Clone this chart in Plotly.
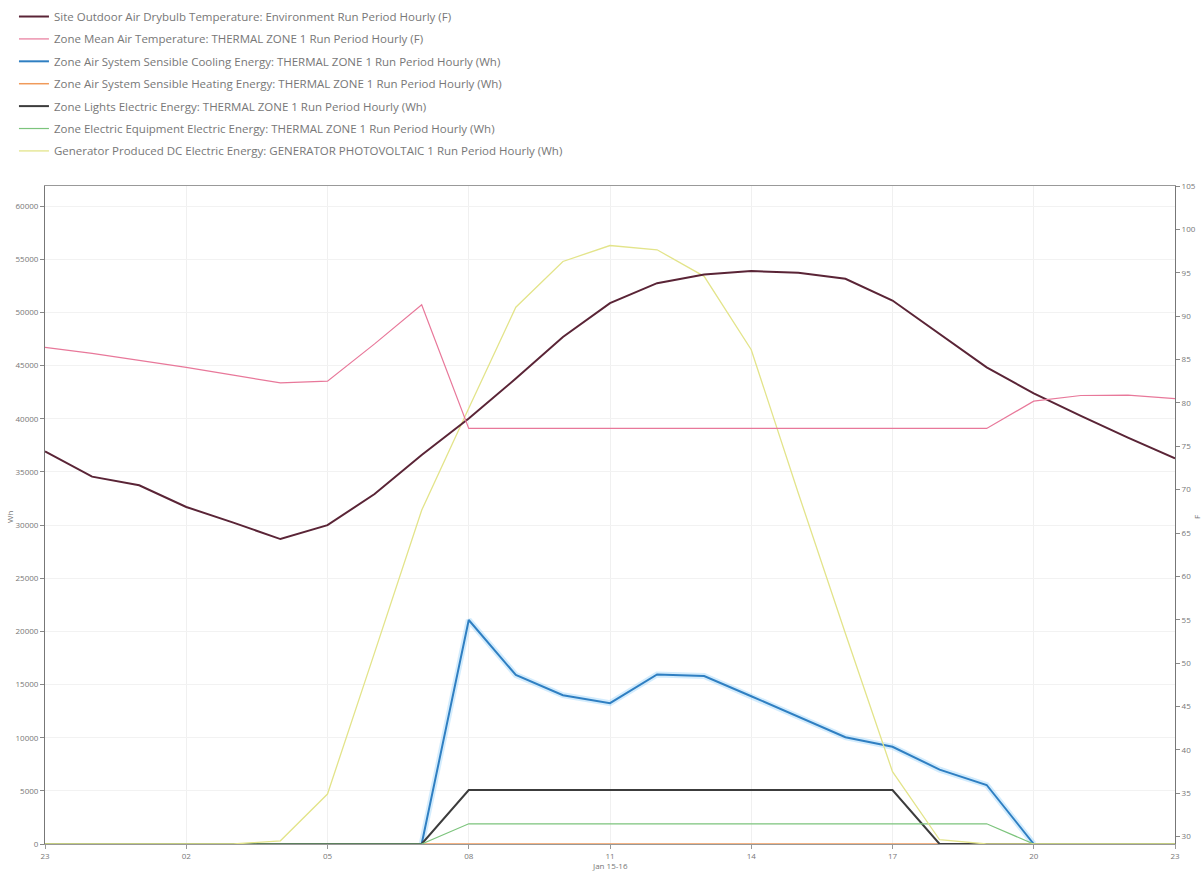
import plotly.graph_objects as go

# ---- data (hourly, Jan 14 23:00 -> Jan 15 23:00) ----
hour_index = list(range(25))
tick_positions = [0, 3, 6, 9, 12, 15, 18, 21, 24]
tick_labels = ["23", "02", "05", "08", "11", "14", "17", "20", "23"]

outdoor_temp_F = [74.4, 71.5, 70.5, 68.0, 66.2, 64.3, 65.9, 69.5, 74.0, 78.2, 82.8, 87.6, 91.5,
                  93.8, 94.8, 95.2, 95.0, 94.3, 91.8, 88.0, 84.1, 81.1, 78.5, 76.0, 73.6]
zone_temp_F = [86.4, 85.7, 84.9, 84.1, 83.2, 82.3, 82.5, 86.8, 91.3, 77.05, 77.05, 77.05, 77.05,
               77.05, 77.05, 77.05, 77.05, 77.05, 77.05, 77.05, 77.05, 80.2, 80.85, 80.9, 80.5]
cooling_Wh = [0, 0, 0, 0, 0, 0, 0, 0, 0, 21070, 15900, 14000, 13250,
              15950, 15800, 13900, 12000, 10050, 9150, 7000, 5550, 0, 0, 0, 0]
heating_Wh = [0] * 25
lights_Wh = [0, 0, 0, 0, 0, 0, 0, 0, 0, 5080, 5080, 5080, 5080,
             5080, 5080, 5080, 5080, 5080, 5080, 0, 0, 0, 0, 0, 0]
equipment_Wh = [0, 0, 0, 0, 0, 0, 0, 0, 0, 1900, 1900, 1900, 1900,
                1900, 1900, 1900, 1900, 1900, 1900, 1900, 1900, 0, 0, 0, 0]
pv_Wh = [0, 0, 0, 0, 0, 300, 4700, 18000, 31400, 41000, 50500, 54800, 56300,
         55900, 53400, 46500, 33000, 19800, 6800, 400, 0, 0, 0, 0, 0]

names = [
    "Site Outdoor Air Drybulb Temperature: Environment Run Period Hourly (F)",
    "Zone Mean Air Temperature: THERMAL ZONE 1 Run Period Hourly (F)",
    "Zone Air System Sensible Cooling Energy: THERMAL ZONE 1 Run Period Hourly (Wh)",
    "Zone Air System Sensible Heating Energy: THERMAL ZONE 1 Run Period Hourly (Wh)",
    "Zone Lights Electric Energy: THERMAL ZONE 1 Run Period Hourly (Wh)",
    "Zone Electric Equipment Electric Energy: THERMAL ZONE 1 Run Period Hourly (Wh)",
    "Generator Produced DC Electric Energy: GENERATOR PHOTOVOLTAIC 1 Run Period Hourly (Wh)",
]
x_title = "Jan 15-16"
y_left_title = "Wh"
y_right_title = "F"

fig = go.Figure()

def add(y, name, color, width, axis, group, showlegend=True):
    fig.add_trace(go.Scatter(
        x=hour_index, y=y, name=name, mode="lines",
        line=dict(color=color, width=width),
        yaxis=axis, legendgroup=group, showlegend=showlegend,
        connectgaps=False,
    ))

# soft glow under the active part of the cooling line
n = len(cooling_Wh)
cooling_glow = [
    v if (v > 0 or (i > 0 and cooling_Wh[i - 1] > 0) or (i < n - 1 and cooling_Wh[i + 1] > 0)) else None
    for i, v in enumerate(cooling_Wh)
]
add(cooling_glow, names[2], "rgba(130,200,250,0.35)", 6, "y", "g3", showlegend=False)

add(outdoor_temp_F, names[0], "#5a2436", 2, "y2", "g1")
add(zone_temp_F, names[1], "#e8789a", 1.2, "y2", "g2")
add(cooling_Wh, names[2], "#2f7fc2", 2, "y", "g3")
add(heating_Wh, names[3], "#f09a5a", 1.5, "y", "g4")
add(lights_Wh, names[4], "#3c3c3c", 2, "y", "g5")
add(equipment_Wh, names[5], "#7cc47c", 1.2, "y", "g6")
add(pv_Wh, names[6], "#e3e48a", 1.3, "y", "g7")

tick_font = dict(family="Open Sans, DejaVu Sans, sans-serif", size=8, color="#777")
title_font = dict(family="Open Sans, DejaVu Sans, sans-serif", size=8, color="#777")

fig.update_layout(
    width=1203, height=876,
    margin=dict(l=45, r=28, t=186, b=32, autoexpand=False),
    paper_bgcolor="white", plot_bgcolor="white",
    font=dict(family="Open Sans, DejaVu Sans, sans-serif", color="#666"),
    showlegend=True,
    legend=dict(
        xref="container", yref="container",
        x=0.0116, y=0.9977, xanchor="left", yanchor="top",
        font=dict(size=11.5, color="#777"),
        tracegroupgap=3.4, itemwidth=30,
        bgcolor="rgba(0,0,0,0)",
    ),
    xaxis=dict(
        range=[0, 24], tickvals=tick_positions, ticktext=tick_labels,
        automargin=False,
        showgrid=True, gridcolor="#f0f0f0", gridwidth=1,
        showline=True, linecolor="#999", mirror=True, linewidth=1,
        ticks="outside", ticklen=4, tickcolor="#999",
        tickfont=tick_font, zeroline=False,
    ),
    yaxis=dict(
        range=[0, 61900], tickvals=list(range(0, 60001, 5000)),
        tickformat="d", automargin=False,
        showgrid=True, gridcolor="#f2f2f2", gridwidth=1,
        showline=True, linecolor="#777", linewidth=1,
        ticks="outside", ticklen=4, tickcolor="#888",
        minor=dict(ticks="outside", ticklen=2, tickcolor="#aaa", nticks=6, showgrid=False),
        tickfont=tick_font, zeroline=False,
    ),
    yaxis2=dict(
        range=[29.15, 105], tickvals=list(range(30, 106, 5)),
        overlaying="y", side="right", automargin=False,
        showgrid=False,
        showline=True, linecolor="#777", linewidth=1,
        ticks="outside", ticklen=4, tickcolor="#888",
        minor=dict(ticks="outside", ticklen=2, tickcolor="#aaa", nticks=6),
        tickfont=tick_font, zeroline=False,
    ),
    annotations=[
        dict(text=x_title, xref="paper", yref="paper", x=0.5, y=-0.0334,
             showarrow=False, font=title_font, xanchor="center", yanchor="middle"),
        dict(text=y_left_title, xref="paper", yref="paper", x=-0.031, y=0.497,
             showarrow=False, font=title_font, textangle=-90,
             xanchor="center", yanchor="middle"),
        dict(text=y_right_title, xref="paper", yref="paper", x=1.0195, y=0.497,
             showarrow=False, font=title_font, textangle=-90,
             xanchor="center", yanchor="middle"),
    ],
)

fig.write_html("out.html", config={"displayModeBar": False},
               post_script="document.body.style.margin='0';")
